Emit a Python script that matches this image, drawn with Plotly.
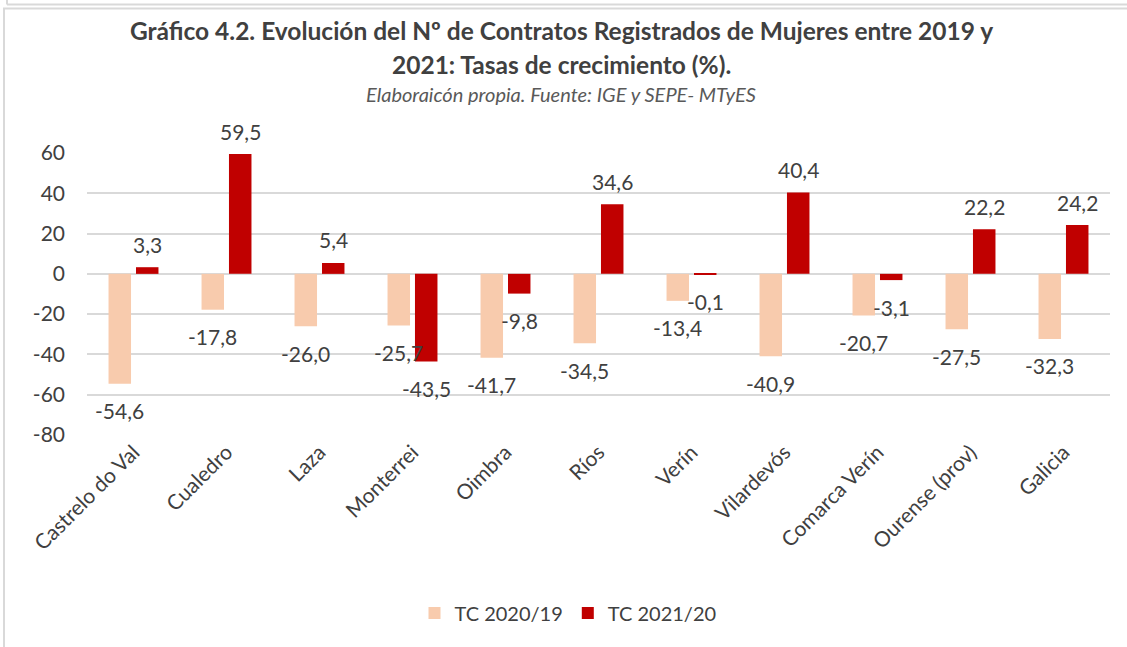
import plotly.graph_objects as go

categories = ["Castrelo do Val", "Cualedro", "Laza", "Monterrei", "Oimbra", "Ríos",
              "Verín", "Vilardevós", "Comarca Verín", "Ourense (prov)", "Galicia"]
tc_2020_19 = [-54.6, -17.8, -26.0, -25.7, -41.7, -34.5, -13.4, -40.9, -20.7, -27.5, -32.3]
tc_2021_20 = [3.3, 59.5, 5.4, -43.5, -9.8, 34.6, -0.1, 40.4, -3.1, 22.2, 24.2]
series_names = ["TC 2020/19", "TC 2021/20"]
y_ticks = [-80, -60, -40, -20, 0, 20, 40, 60]

FONT = "Lato"
TXT = "#404040"
L, R, T, H = 87, 17, 153, 282
W = 1127 - L - R

def fmt(v):
    return f"{v:.1f}".replace(".", ",")

def px(x):
    return (x - L) / W

def py(y):
    return 1 + (T - y) / H

fig = go.Figure()
for name, vals, col in [(series_names[0], tc_2020_19, "#F8CBAD"),
                        (series_names[1], tc_2021_20, "#C00000")]:
    fig.add_trace(go.Bar(
        x=categories, y=vals, name=name,
        marker=dict(color=col, line=dict(width=0)),
    ))

# data labels (Excel "outside end" style), drawn above all bars
label_annots = []
for vals, shift in [(tc_2020_19, -13.75), (tc_2021_20, 13.75)]:
    for c, v in zip(categories, vals):
        label_annots.append(dict(
            x=c, y=v, xref="x", yref="y", text=fmt(v), showarrow=False,
            xanchor="center", yanchor="middle", xshift=shift,
            yshift=23 if v >= 0 else -27,
            font=dict(family=FONT, size=21, color=TXT)))

fig.update_layout(
    width=1127, height=647,
    paper_bgcolor="white", plot_bgcolor="white",
    barmode="group", bargap=0.41, bargroupgap=0.18,
    margin=dict(l=L, r=R, t=T, b=647 - T - H),
    font=dict(family=FONT, color=TXT),
    showlegend=True,
    legend=dict(orientation="h", x=568 / 1127, xanchor="center", xref="container",
                y=34 / 647, yanchor="middle", yref="container",
                font=dict(family=FONT, size=20, color=TXT),
                itemwidth=30, traceorder="normal"),
    xaxis=dict(tickangle=-45, tickfont=dict(family=FONT, size=21, color=TXT),
               showline=False, showgrid=False, ticks=""),
    yaxis=dict(range=[-80, 60], tickvals=y_ticks,
               ticktext=[str(v) for v in y_ticks],
               tickfont=dict(family=FONT, size=21, color=TXT),
               showgrid=True, gridcolor="#D9D9D9", gridwidth=1.5,
               zeroline=True, zerolinecolor="#D9D9D9", zerolinewidth=1.5,
               showline=False, ticks="", ticklabelstandoff=21),
    annotations=label_annots + [
        dict(text="<b>Gráfico 4.2. Evolución del Nº de Contratos Registrados de Mujeres entre 2019 y</b>",
             xref="paper", yref="paper", x=px(561), y=py(30),
             xanchor="center", yanchor="middle", showarrow=False,
             font=dict(family=FONT, size=24.5, color=TXT)),
        dict(text="<b>2021: Tasas de crecimiento (%).</b>",
             xref="paper", yref="paper", x=px(561), y=py(64),
             xanchor="center", yanchor="middle", showarrow=False,
             font=dict(family=FONT, size=24.5, color=TXT)),
        dict(text="<i>Elaboraicón propia. Fuente: IGE y SEPE- MTyES</i>",
             xref="paper", yref="paper", x=px(561), y=py(94),
             xanchor="center", yanchor="middle", showarrow=False,
             font=dict(family=FONT, size=20, color="#595959")),
    ],
    shapes=[
        dict(type="line", xref="paper", yref="paper",
             x0=px(7), x1=px(1127), y0=py(4.5), y1=py(4.5),
             line=dict(color="#D9D9D9", width=2)),
        dict(type="line", xref="paper", yref="paper",
             x0=px(3), x1=px(1127), y0=py(8.5), y1=py(8.5),
             line=dict(color="#D9D9D9", width=2)),
        dict(type="line", xref="paper", yref="paper",
             x0=px(4), x1=px(4), y0=py(8.5), y1=py(647),
             line=dict(color="#D9D9D9", width=2)),
        dict(type="line", xref="paper", yref="paper",
             x0=px(7), x1=px(7), y0=py(4.5), y1=py(0),
             line=dict(color="#D9D9D9", width=2)),
    ],
)

fig.write_html("out.html", config={"displayModeBar": False},
               post_script="document.body.style.margin='0';document.body.style.overflow='hidden';")
